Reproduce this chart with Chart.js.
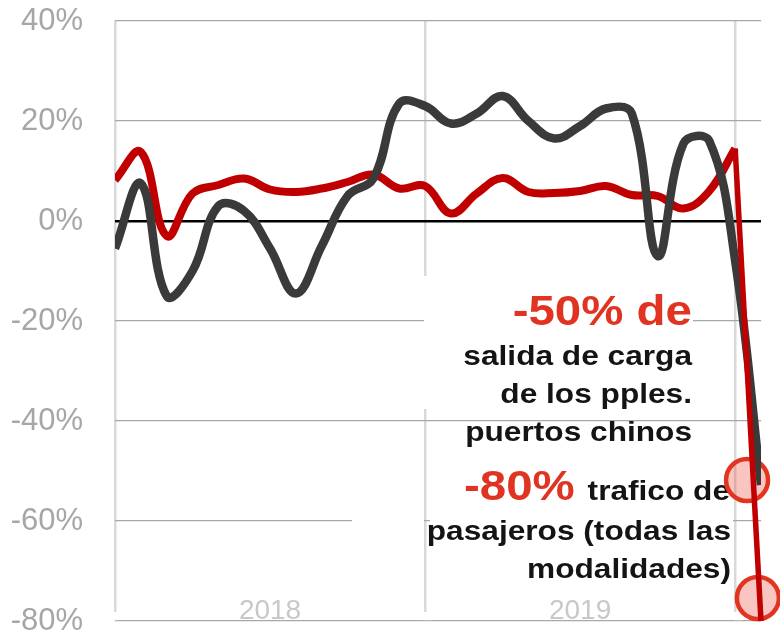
<!DOCTYPE html>
<html><head><meta charset="utf-8">
<script src="https://cdn.jsdelivr.net/npm/chart.js@4.4.1/dist/chart.umd.min.js"></script>
<style>html,body{margin:0;padding:0;background:#fff;overflow:hidden}canvas{display:block}</style>
</head><body>
<canvas id="c" width="780" height="633"></canvas>
<script>
// ---- data ----
const months = ['ene 2018','feb 2018','mar 2018','abr 2018','may 2018','jun 2018','jul 2018','ago 2018','sep 2018','oct 2018','nov 2018','dic 2018',
                'ene 2019','feb 2019','mar 2019','abr 2019','may 2019','jun 2019','jul 2019','ago 2019','sep 2019','oct 2019','nov 2019','dic 2019',
                'ene 2020','feb 2020'];
const cargo      = [-5.5, 7.5, -15, -10, 3, 2, -5.5, -14.5, -5, 5, 8.5, 23.5, 23, 19.5, 21.5, 25, 20, 16.5, 19, 22.5, 21.5, -7, 15.5, 16, -8, -52.8];
const passengers = [8.2, 13.8, -3, 5.5, 7.2, 8.5, 6.3, 5.8, 6.5, 7.8, 9.3, 6.5, 7, 1.5, 5.5, 8.6, 5.8, 5.6, 6, 7, 5.2, 5, 2.5, 6, 14.5, -80];
const yTicks = [-80, -60, -40, -20, 0, 20, 40];
const yearLabels = ['2018', '2019'];
const yearLabelMonths = [6, 18];
const yearStartMonths = [0, 12, 24];
const markerMonths = [24.46, 24.88];
const markerValues = [-51.8, -75.4];

Chart.defaults.font.family = '"Liberation Sans", Arial, sans-serif';

const annot = {
  id: 'annot',
  beforeDatasetsDraw(chart) {
    const ctx = chart.ctx;
    ctx.save();
    ctx.fillStyle = '#ffffff';
    const masks = [[424, 276, 693, 409], [352, 510, 424, 532], [430, 510, 733, 532],
                   [111, 612, 119, 620.2], [423, 612, 431, 620.2], [734, 612, 742, 620.2]];
    masks.forEach(r => ctx.fillRect(r[0], r[1], r[2] - r[0], r[3] - r[1]));
    const sx = 1.13;
    const red = '#e03322', blk = '#141414';
    const bigF = 'bold 42px "Liberation Sans", Arial, sans-serif';
    const smF = 'bold 28px "Liberation Sans", Arial, sans-serif';
    function txt(s, xr, yb, font, col) {
      ctx.save();
      ctx.font = font; ctx.fillStyle = col; ctx.textAlign = 'right'; ctx.textBaseline = 'alphabetic';
      ctx.translate(xr, yb); ctx.scale(sx, 1); ctx.fillText(s, 0, 0);
      ctx.restore();
    }
    function w(s, font) { ctx.save(); ctx.font = font; const m = ctx.measureText(s).width * sx; ctx.restore(); return m; }
    txt('-50% de', 692, 325, bigF, red);
    txt('salida de carga', 692, 365, smF, blk);
    txt('de los pples.', 692, 403, smF, blk);
    txt('puertos chinos', 692, 441, smF, blk);
    txt('trafico de', 730, 500, smF, blk);
    txt('-80%', 730 - w(' trafico de', smF) - 4, 500, bigF, red);
    txt('pasajeros (todas las', 731, 540, smF, blk);
    txt('modalidades)', 731, 578, smF, blk);
    ctx.restore();
  }
};

new Chart(document.getElementById('c'), {
  type: 'line',
  data: {
    datasets: [
      { label: 'pasajeros (caída)', data: [{x: 24, y: passengers[24]}, {x: 25, y: passengers[25]}],
        borderColor: '#c00000', borderWidth: 5.5, tension: 0, pointRadius: 0, order: 0, clip: false },
      { label: 'salida de carga', data: cargo.map((v, i) => ({x: i, y: v})),
        borderColor: '#3a3a3a', borderWidth: 8.5, tension: 0.4, pointRadius: 0, order: 1, borderJoinStyle: 'round' },
      { label: 'pasajeros', data: passengers.slice(0, 25).map((v, i) => ({x: i, y: v})),
        borderColor: '#c00000', borderWidth: 8, tension: 0.4, pointRadius: 0, order: 2, borderJoinStyle: 'round' },
      { label: 'marcas', data: markerMonths.map((m, i) => ({x: m, y: markerValues[i]})), showLine: false,
        pointRadius: 21, pointBorderWidth: 4.5, pointBackgroundColor: 'rgba(235,90,75,0.35)', pointBorderColor: '#e2341f',
        order: 3, clip: false }
    ]
  },
  options: {
    responsive: false,
    animation: false,
    layout: { autoPadding: false, padding: { left: 0, right: 19, top: 21, bottom: 12 } },
    plugins: { legend: { display: false }, tooltip: { enabled: false } },
    scales: {
      x: {
        type: 'linear', min: 0, max: months.length - 1,
        afterBuildTicks: s => { s.ticks = yearStartMonths.concat(yearLabelMonths).sort((a, b) => a - b).map(v => ({value: v})); },
        afterFit: s => { s.height = 0; s.paddingLeft = 0; s.paddingRight = 0; },
        grid: { drawTicks: false, lineWidth: 2.5,
                color: c => (c.tick && yearStartMonths.includes(c.tick.value)) ? '#d9d9d9' : 'rgba(0,0,0,0)' },
        border: { display: false },
        ticks: { autoSkip: false, maxRotation: 0, minRotation: 0, mirror: true, padding: -7, color: '#c8c8c8', font: { size: 28 },
                 callback: v => { const k = yearLabelMonths.indexOf(v); return k >= 0 ? yearLabels[k] : ''; } }
      },
      y: {
        min: yTicks[0], max: yTicks[yTicks.length - 1],
        afterBuildTicks: s => { s.ticks = yTicks.map(v => ({value: v})); },
        afterFit: s => { s.width = 115; s.paddingTop = 0; s.paddingBottom = 0; },
        grid: { drawTicks: false,
                color: c => (c.tick && c.tick.value === 0) ? '#000000' : '#a8a8a8',
                lineWidth: c => (c.tick && c.tick.value === 0) ? 2.5 : 1.3 },
        border: { display: false },
        ticks: { padding: 32, color: '#a6a6a6', font: { size: 31 }, callback: v => v + '%' }
      }
    }
  },
  plugins: [annot]
});
</script>
</body></html>
